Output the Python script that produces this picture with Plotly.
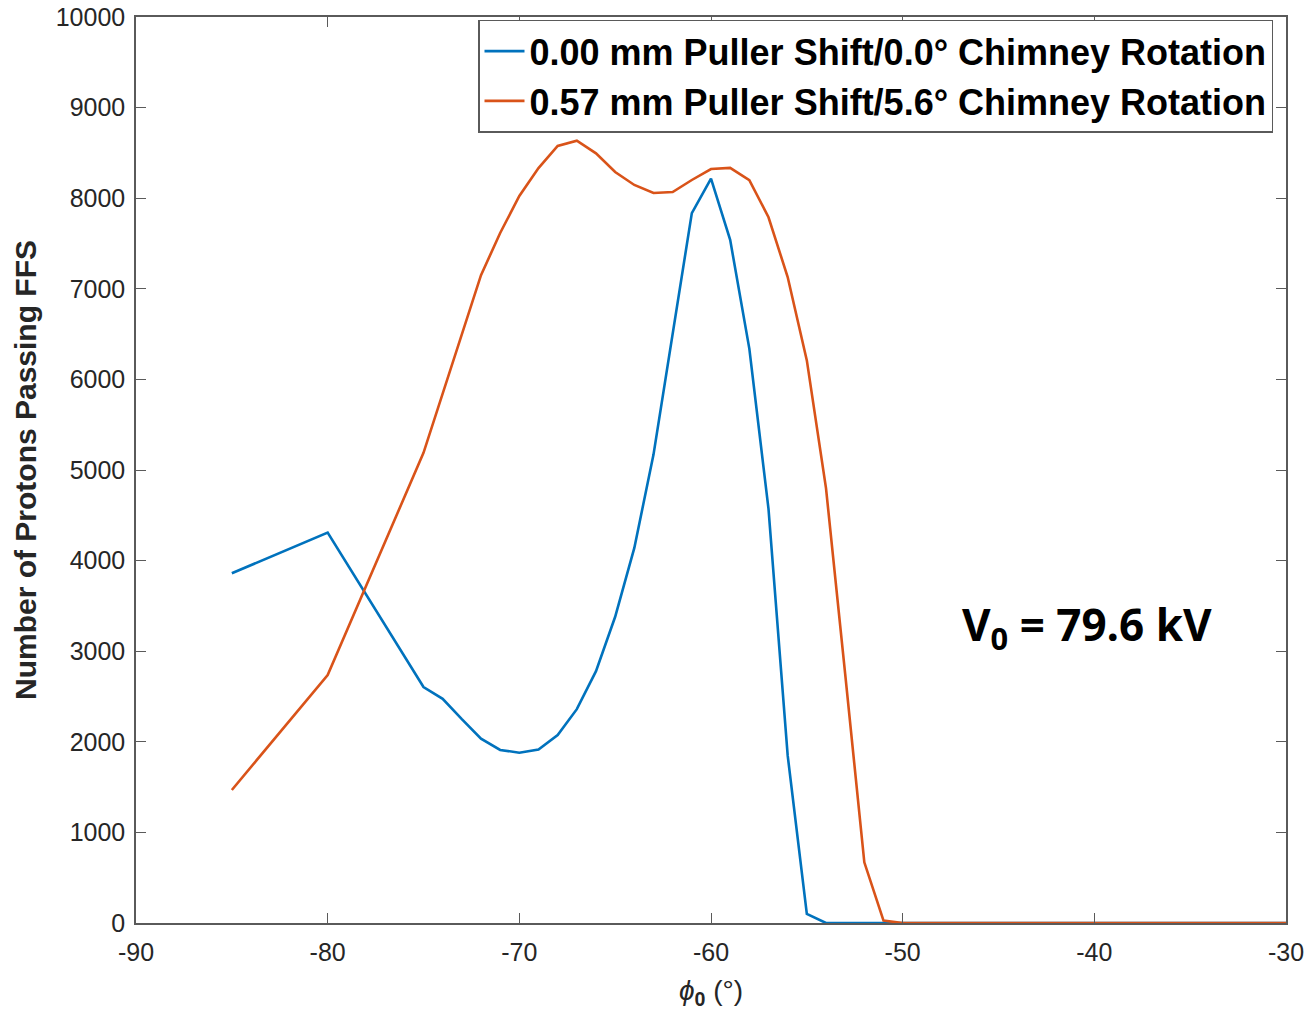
import plotly.graph_objects as go

# Data
phi_blue = [-85, -80, -75, -74, -73, -72, -71, -70, -69, -68, -67, -66, -65, -64, -63, -62,
            -61, -60, -59, -58, -57, -56, -55, -54, -53, -30]
n_blue = [3860, 4310, 2605, 2475, 2250, 2035, 1910, 1880, 1915, 2075, 2360, 2780, 3380, 4140, 5170, 6490,
          7836, 8215, 7540, 6340, 4570, 1850, 100, 0, 0, 0]

phi_orange = [-85, -80, -75, -74, -73, -72, -71, -70, -69, -68, -67, -66, -65, -64, -63, -62,
              -61, -60, -59, -58, -57, -56, -55, -54, -53, -52, -51, -50, -30]
n_orange = [1468, 2737, 5190, 5850, 6500, 7150, 7616, 8025, 8333, 8576, 8635, 8495, 8289, 8146, 8057, 8068,
            8201, 8322, 8335, 8200, 7790, 7130, 6210, 4800, 2750, 670, 26, 0, 0]

label_blue = "<b>0.00 mm Puller Shift/0.0° Chimney Rotation</b>"
label_orange = "<b>0.57 mm Puller Shift/5.6° Chimney Rotation</b>"
x_ticks = [-90, -80, -70, -60, -50, -40, -30]
y_ticks = [0, 1000, 2000, 3000, 4000, 5000, 6000, 7000, 8000, 9000, 10000]

fig = go.Figure()
fig.add_trace(go.Scatter(x=phi_blue, y=n_blue, mode="lines", name=label_blue,
                         line=dict(color="#0072BD", width=2.6)))
fig.add_trace(go.Scatter(x=phi_orange, y=n_orange, mode="lines", name=label_orange,
                         line=dict(color="#D95319", width=2.6)))

axis_common = dict(showline=True, linecolor="#5a5a5a", linewidth=1.5, mirror="ticks",
                   ticks="inside", ticklen=10, tickcolor="#5a5a5a", tickwidth=1.2,
                   showgrid=False, zeroline=False, automargin=False,
                   tickfont=dict(family="Liberation Sans", size=25, color="#262626"))

fig.update_xaxes(range=[-90, -30], tickvals=x_ticks, ticktext=[str(v) for v in x_ticks],
                 title=dict(text="<i>ϕ</i><sub><b>0</b></sub> (°)", standoff=16,
                            font=dict(family="Liberation Sans", size=28, color="#262626")),
                 ticklabelstandoff=6, **axis_common)
fig.update_yaxes(range=[0, 10000], tickvals=y_ticks, ticktext=[str(v) for v in y_ticks],
                 title=dict(text="<b>Number of Protons Passing FFS</b>", standoff=10,
                            font=dict(family="Liberation Sans", size=30, color="#262626")),
                 ticklabelstandoff=4, **axis_common)

fig.add_annotation(x=-40.4, y=3270, xref="x", yref="y", showarrow=False,
                   text="<b>V<sub>0</sub> = 79.6 kV</b>",
                   font=dict(family="Open Sans", size=44, color="black"))

fig.update_layout(
    width=1310, height=1016,
    margin=dict(l=136, r=24, t=17, b=93),
    plot_bgcolor="white", paper_bgcolor="white",
    legend=dict(x=0.9887, y=0.997, xanchor="right", yanchor="top",
                bgcolor="white", bordercolor="#5a5a5a", borderwidth=1.5,
                font=dict(family="Liberation Sans", size=36, color="black"),
                itemwidth=40, tracegroupgap=0),
    showlegend=True,
)

fig.write_html("out.html")
